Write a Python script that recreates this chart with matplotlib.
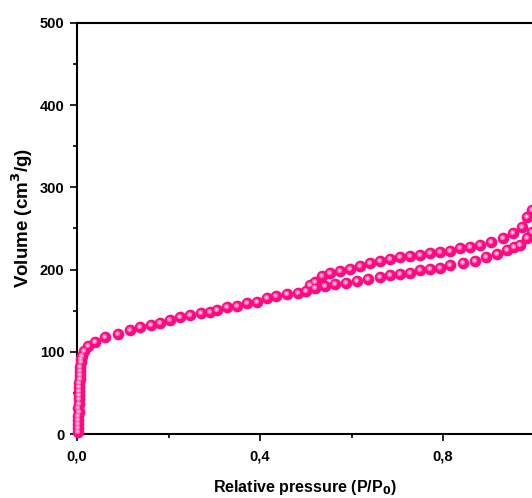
#!/usr/bin/env python3
"""N2 sorption isotherm (adsorption + desorption branches), pink sphere markers."""
import matplotlib
matplotlib.use("Agg")
import matplotlib.pyplot as plt
import matplotlib.transforms as mtransforms
from matplotlib.ticker import MultipleLocator, FuncFormatter

# adsorption branch (lower)
ads_p = [0.003, 0.002, 0.003, 0.002, 0.003, 0.004, 0.003, 0.004, 0.004, 0.005,
         0.004, 0.005, 0.005, 0.006, 0.006, 0.007, 0.007, 0.008, 0.009,
         0.010, 0.015, 0.024, 0.039, 0.061, 0.090, 0.116, 0.138, 0.161, 0.181,
         0.203, 0.225, 0.247, 0.272, 0.290, 0.305, 0.327, 0.349, 0.372, 0.393,
         0.415, 0.436, 0.460, 0.483, 0.500, 0.520, 0.542, 0.564, 0.588, 0.611,
         0.636, 0.662, 0.684, 0.706, 0.728, 0.750, 0.772, 0.793, 0.815, 0.844,
         0.870, 0.895, 0.918, 0.939, 0.955, 0.968, 0.983, 0.994]
ads_v = [2, 7, 12, 17, 22, 27, 32, 37, 42, 47,
         52, 57, 62, 67, 72, 77, 82, 87, 91,
         95, 101, 107, 112, 118, 122, 126, 130, 133, 135,
         139, 142, 145, 147, 149, 151, 154, 156, 159, 161,
         165, 168, 170, 172, 174, 178, 180, 182, 184, 186,
         188, 191, 193, 195, 196, 199, 201, 202, 205, 208,
         211, 215, 219, 224, 227, 230, 238, 246]

# desorption branch (upper)
des_p = [0.994, 0.983, 0.972, 0.953, 0.931, 0.905, 0.880, 0.858, 0.837, 0.815,
         0.793, 0.772, 0.750, 0.728, 0.706, 0.684, 0.662, 0.640, 0.618, 0.597,
         0.575, 0.553, 0.535, 0.520, 0.510]
des_v = [272, 264, 252, 244, 238, 234, 230, 228, 226, 223,
         221, 220, 218, 217, 215, 213, 211, 208, 204, 201,
         198, 196, 192, 185, 181]

plt.rcParams["font.family"] = ["Liberation Sans", "DejaVu Sans"]
plt.rcParams["font.weight"] = "bold"

fig = plt.figure(figsize=(5.32, 4.98), dpi=100)
ax = fig.add_axes([77 / 532, 64 / 498, 457.5 / 532, 411 / 498])

pink = "#ff0a80"
hl = mtransforms.offset_copy(ax.transData, fig=fig, x=-1.0, y=1.0, units="dots")
for p, v in [(ads_p, ads_v), (des_p, des_v)]:
    ax.plot(p, v, "o", color=pink, ms=8.4, mew=0, clip_on=False, zorder=3)
    ax.plot(p, v, "o", color="#ff6fb5", ms=3.8, mew=0, transform=hl,
            clip_on=False, zorder=4)
    ax.plot(p, v, "o", color="#ffe6f2", ms=1.6, mew=0, transform=hl,
            clip_on=False, zorder=5)

ax.set_xlim(0, 1.0)
ax.set_ylim(0, 500)
ax.xaxis.set_major_locator(MultipleLocator(0.4))
ax.xaxis.set_minor_locator(MultipleLocator(0.2))
ax.yaxis.set_major_locator(MultipleLocator(100))
ax.yaxis.set_minor_locator(MultipleLocator(50))
ax.xaxis.set_major_formatter(FuncFormatter(lambda x, _: f"{x:.1f}".replace(".", ",")))
ax.tick_params(which="both", direction="out", width=1.2, labelsize=10.5)
ax.tick_params(which="major", length=5)
ax.tick_params(axis="x", which="major", pad=6)
ax.tick_params(axis="y", which="major", pad=4)
ax.tick_params(which="minor", length=3)
for s in ax.spines.values():
    s.set_linewidth(1.5)

ax.set_xlabel("Relative pressure (P/P$_\\mathbf{0}$)", fontsize=11.5,
              fontweight="bold", va="center")
ax.set_ylabel("Volume (cm$^\\mathbf{3}$/g)", fontsize=13.5,
              fontweight="bold", va="center")
ax.xaxis.set_label_coords(228 / 457.5, -53 / 411)
ax.yaxis.set_label_coords(-55 / 457.5, 216 / 411)

fig.savefig("out.png", dpi=100)
